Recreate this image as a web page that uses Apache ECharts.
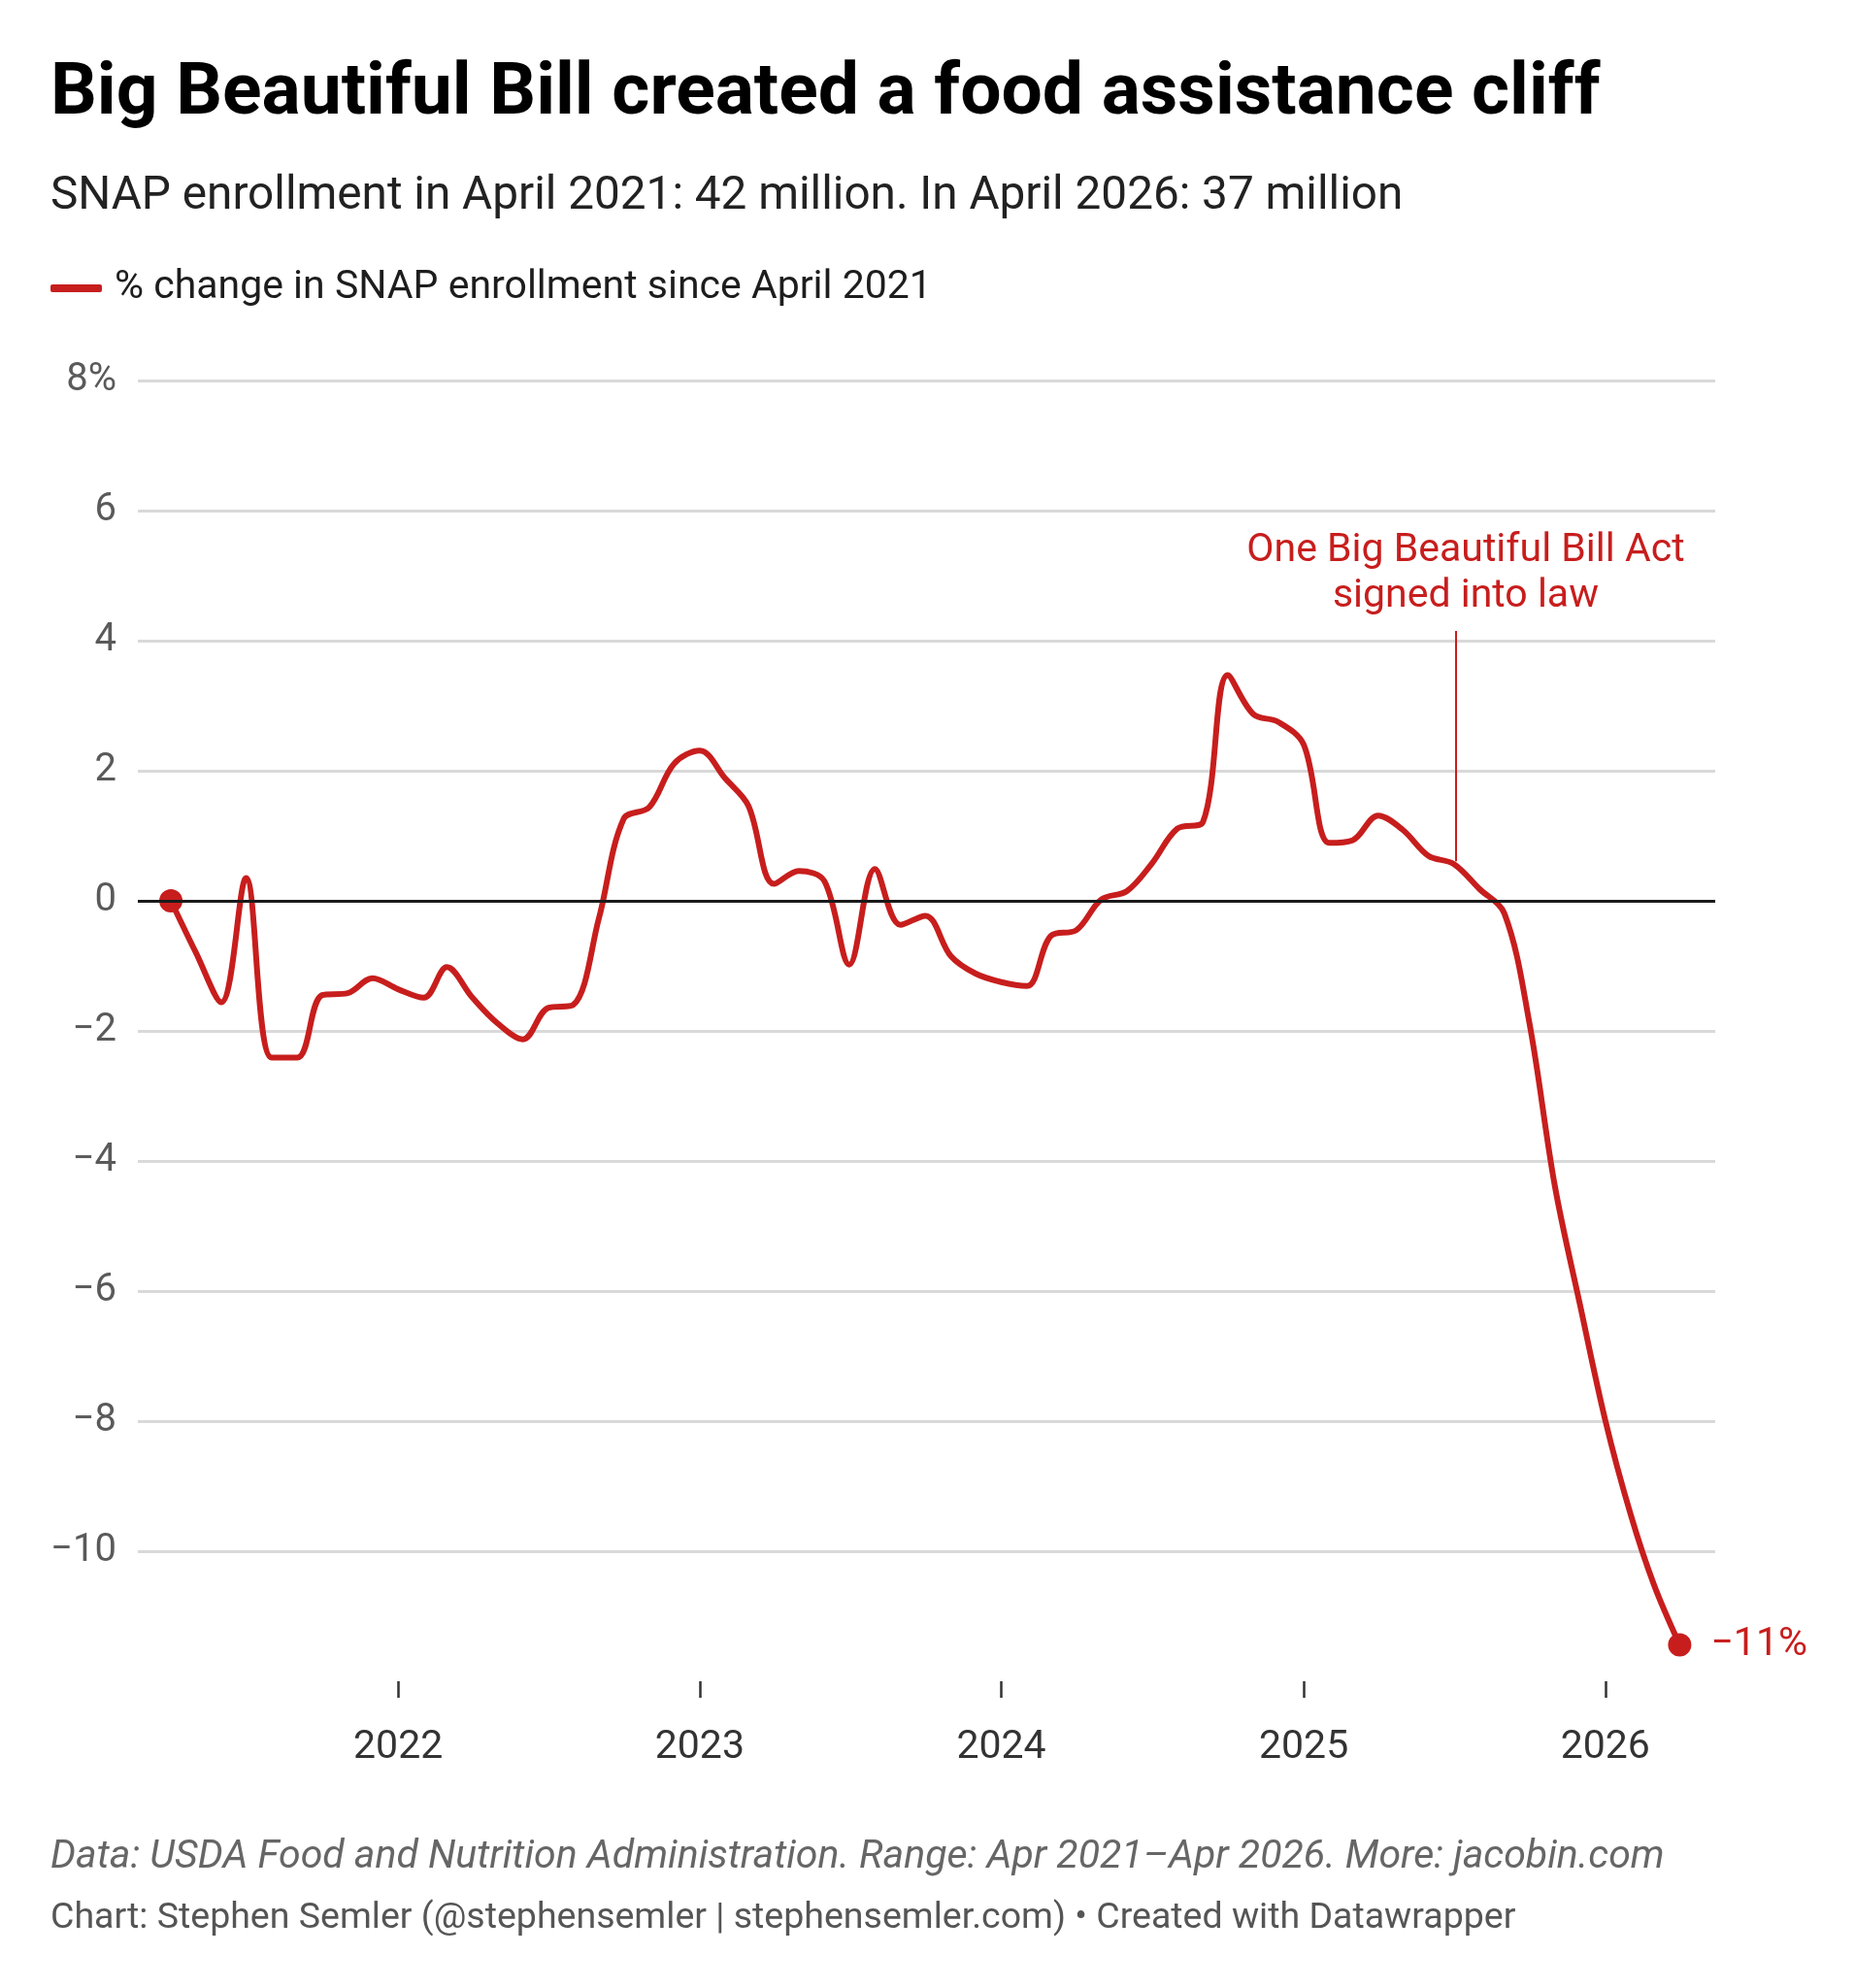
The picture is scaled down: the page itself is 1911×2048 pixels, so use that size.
<!DOCTYPE html>
<html>
<head>
<meta charset="utf-8">
<script src="https://cdn.jsdelivr.net/npm/echarts@6/dist/echarts.min.js"></script>
<style>
html,body{margin:0;padding:0;background:#fff;}
#chart{width:1911px;height:2048px;}
</style>
</head>
<body>
<div id="chart"></div>
<script>
const months = [
 '2021-04','2021-05','2021-06','2021-07','2021-08','2021-09','2021-10','2021-11','2021-12',
 '2022-01','2022-02','2022-03','2022-04','2022-05','2022-06','2022-07','2022-08','2022-09','2022-10','2022-11','2022-12',
 '2023-01','2023-02','2023-03','2023-04','2023-05','2023-06','2023-07','2023-08','2023-09','2023-10','2023-11','2023-12',
 '2024-01','2024-02','2024-03','2024-04','2024-05','2024-06','2024-07','2024-08','2024-09','2024-10','2024-11','2024-12',
 '2025-01','2025-02','2025-03','2025-04','2025-05','2025-06','2025-07','2025-08','2025-09','2025-10','2025-11','2025-12',
 '2026-01','2026-02','2026-03','2026-04'
];
const pctChange = [
 0, -0.79, -1.56, 0.35, -2.41, -2.41, -1.45, -1.42, -1.19,
 -1.36, -1.49, -1.02, -1.49, -1.88, -2.13, -1.65, -1.60, -0.27, 1.26, 1.44, 2.11,
 2.31, 1.88, 1.46, 0.26, 0.46, 0.30, -0.98, 0.49, -0.37, -0.23, -0.85, -1.12,
 -1.25, -1.31, -0.54, -0.45, 0.02, 0.15, 0.57, 1.11, 1.21, 3.47, 2.87, 2.75,
 2.40, 0.89, 0.93, 1.31, 1.09, 0.69, 0.57, 0.19, -0.20, -1.87, -4.39, -6.19,
 -7.99, -9.45, -10.52, -11.44
];
const yearTicks = ['2022-01-01','2023-01-01','2024-01-01','2025-01-01','2026-01-01'];
const xRange = ['2021-02-20', '2026-05-14'];
const seriesName = '% change in SNAP enrollment since April 2021';
const titleText = 'Big Beautiful Bill created a food assistance cliff';
const subtitleText = 'SNAP enrollment in April 2021: 42 million. In April 2026: 37 million';
const sourceText = 'Data: USDA Food and Nutrition Administration. Range: Apr 2021\u2013Apr 2026. More: jacobin.com';
const creditText = 'Chart: Stephen Semler (@stephensemler | stephensemler.com) \u2022 Created with Datawrapper';
const annotation = { date: '2025-07-04', top: 4.15, bottom: 0.61, labelDate: '2025-07-16', labelValue: 5.03,
  text: 'One Big Beautiful Bill Act\nsigned into law' };
const endLabel = '\u221211%';

const RED = '#c71e1d';
const FONT = 'Roboto';
const toTs = s => { const p = s.split('-').map(Number); return new Date(p[0], p[1]-1, p[2]||1).getTime(); };
const tickTs = yearTicks.map(toTs);
const lineData = months.map((m, i) => [toTs(m), pctChange[i]]);
const last = months.length - 1;

const chart = echarts.init(document.getElementById('chart'), null, {renderer: 'canvas'});
chart.setOption({
  animation: false,
  backgroundColor: '#fff',
  textStyle: { fontFamily: FONT },
  grid: { left: 142, right: 144, top: 392, bottom: 316, containLabel: false },
  legend: {
    data: [seriesName],
    left: 52, top: 275, padding: 0,
    icon: 'roundRect', itemWidth: 53, itemHeight: 8,
    textStyle: { fontFamily: FONT, fontSize: 41, color: '#1d1d1d', lineHeight: 44, padding: [0,0,0,8] },
    selectedMode: false
  },
  xAxis: {
    type: 'value',
    min: toTs(xRange[0]), max: toTs(xRange[1]),
    axisLine: { show: false, onZero: false },
    splitLine: { show: false },
    axisTick: { show: true, customValues: tickTs, length: 17, lineStyle: { color: '#333', width: 2.5 } },
    axisLabel: { customValues: tickTs, margin: 48, fontFamily: FONT, fontSize: 41, color: '#333',
      formatter: v => String(new Date(v).getFullYear()) }
  },
  yAxis: {
    type: 'value', min: -12, max: 8, interval: 2,
    axisLine: { show: false }, axisTick: { show: false },
    splitLine: { show: true, showMinLine: false, lineStyle: { color: '#d9d9d9', width: 3 } },
    axisLabel: { margin: 22, fontFamily: FONT, fontSize: 40, color: '#5a5a5a',
      formatter: v => v === -12 ? '' : (v === 8 ? '8%' : String(v).replace('-', '\u2212')) }
  },
  series: [
    {
      name: seriesName, type: 'line', data: lineData,
      smooth: 0.35, showSymbol: false,
      color: RED, lineStyle: { color: RED, width: 6 },
      z: 3,
      markLine: {
        silent: true, symbol: ['none','none'], animation: false,
        label: { show: false },
        data: [
          { yAxis: 0, lineStyle: { color: '#1a1a1a', width: 3, type: 'solid' } },
          [ { coord: [toTs(annotation.date), annotation.top], lineStyle: { color: RED, width: 2, type: 'solid' } },
            { coord: [toTs(annotation.date), annotation.bottom] } ]
        ]
      },
      markPoint: {
        silent: true, symbol: 'circle', symbolSize: 0,
        data: [ { coord: [toTs(annotation.labelDate), annotation.labelValue],
          label: { show: true, position: 'inside', formatter: annotation.text, color: RED,
            fontFamily: FONT, fontSize: 41, lineHeight: 47, align: 'center' } } ]
      }
    },
    {
      name: 'endpoints', type: 'scatter', z: 4,
      data: [ { value: lineData[0] },
              { value: lineData[last], label: { show: true, position: 'right', distance: 20, formatter: endLabel,
                color: RED, fontFamily: FONT, fontSize: 41 } } ],
      symbolSize: 24, itemStyle: { color: RED, opacity: 1 }, label: { show: false }
    }
  ],
  graphic: [
    { type: 'text', x: 52, y: 98, style: { text: titleText, font: 'bold 75px Roboto', fill: '#000', verticalAlign: 'middle' } },
    { type: 'text', x: 52, y: 203, style: { text: subtitleText, font: '47.7px Roboto', fill: '#222', verticalAlign: 'middle' } },
    { type: 'text', x: 52, y: 1914, style: { text: sourceText, font: 'italic 41px Roboto', fill: '#666', verticalAlign: 'middle' } },
    { type: 'text', x: 52, y: 1977, style: { text: creditText, font: '37.5px Roboto', fill: '#555', verticalAlign: 'middle' } }
  ]
});
</script>
</body>
</html>
